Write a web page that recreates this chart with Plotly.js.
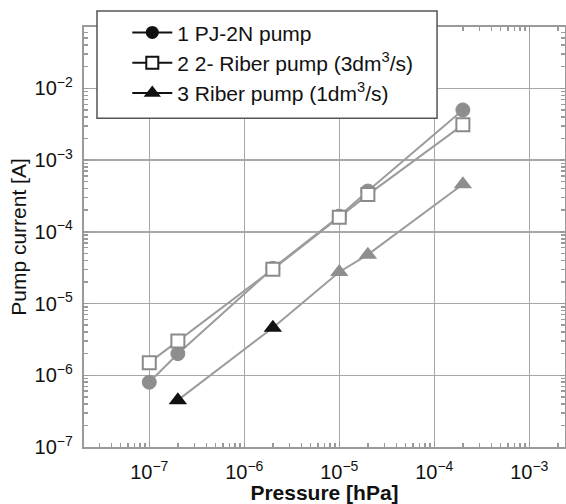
<!DOCTYPE html>
<html>
<head>
<meta charset="utf-8">
<script src="https://cdn.plot.ly/plotly-3.0.1.min.js"></script>
<style>html,body{margin:0;padding:0;background:#fff;}#chart{width:566px;height:504px;}</style>
</head>
<body>
<div id="chart"></div>
<script>
// Data
const pressure1 = [1e-7, 2e-7, 2e-6, 1e-5, 2e-5, 2e-4];
const current1  = [8e-7, 2e-6, 3.1e-5, 1.65e-4, 3.7e-4, 5.0e-3];
const pressure2 = [1e-7, 2e-7, 2e-6, 1e-5, 2e-5, 2e-4];
const current2  = [1.5e-6, 3.0e-6, 3.0e-5, 1.6e-4, 3.3e-4, 3.1e-3];
const pressure3 = [2e-7, 2e-6, 1e-5, 2e-5, 2e-4];
const current3  = [4.5e-7, 4.6e-6, 2.75e-5, 4.8e-5, 4.6e-4];

const seriesNames = ['1 PJ-2N pump', '2 2- Riber pump (3dm<sup>3</sup>/s)', '3 Riber pump (1dm<sup>3</sup>/s)'];

const FONT = 'Liberation Sans, Arial, sans-serif';
const lineGray = '#9c9c9c';
const markGray = '#8e8e8e';

const traces = [
  {x: pressure1, y: current1, mode: 'lines+markers', showlegend: false,
   line: {color: lineGray, width: 2},
   marker: {symbol: 'circle', size: 14, color: markGray, line: {color: markGray, width: 1}}},
  {x: pressure2, y: current2, mode: 'lines+markers', showlegend: false,
   line: {color: lineGray, width: 2},
   marker: {symbol: 'square', size: 13, color: '#ffffff', line: {color: '#8a8a8a', width: 2}}},
  {x: pressure3, y: current3, mode: 'lines+markers', showlegend: false,
   line: {color: lineGray, width: 2},
   marker: {symbol: 'triangle-up', size: 16,
            color: ['#111111', '#111111', markGray, markGray, markGray],
            line: {width: 0}}},
  // legend entries (black symbols as in the reference legend)
  {x: [null], y: [null], mode: 'lines+markers', name: seriesNames[0], legendgroup: 'a',
   line: {color: '#111', width: 2}, marker: {symbol: 'circle', size: 13, color: '#111'}},
  {x: [null], y: [null], mode: 'lines+markers', name: seriesNames[1], legendgroup: 'b',
   line: {color: '#111', width: 2}, marker: {symbol: 'square', size: 12, color: '#fff', line: {color: '#111', width: 2}}},
  {x: [null], y: [null], mode: 'lines+markers', name: seriesNames[2], legendgroup: 'c',
   line: {color: '#111', width: 2}, marker: {symbol: 'triangle-up', size: 15, color: '#111'}}
];

function axis(extra) {
  return Object.assign({
    type: 'log', showline: true, linecolor: '#9a9a9a', linewidth: 2, mirror: 'ticks',
    showgrid: true, gridcolor: '#a8a8a8', gridwidth: 1.5, zeroline: false,
    dtick: 1, exponentformat: 'power', showexponent: 'all',
    ticks: 'inside', ticklen: 5, tickcolor: '#9a9a9a', tickwidth: 1.5,
    tickfont: {family: FONT, size: 16, color: '#111'},
    minor: {ticks: 'inside', ticklen: 4, tickcolor: '#9a9a9a', tickwidth: 1.5, showgrid: false, dtick: 'D1'}
  }, extra);
}

const layout = {
  width: 566, height: 504,
  margin: {l: 84, r: 1, t: 27, b: 57},
  paper_bgcolor: '#fff', plot_bgcolor: '#fff',
  font: {family: FONT, size: 16, color: '#111'},
  xaxis: axis({
    range: [-7.687, -2.624],
    ticklabelstandoff: 7,
    title: {text: 'Pressure [hPa]', font: {size: 21, family: FONT, weight: 'bold', color: '#111'}, standoff: 1}
  }),
  yaxis: axis({
    range: [-7, -1.145],
    ticklabelstandoff: 6,
    title: {text: 'Pump current [A]', font: {size: 21, family: FONT, color: '#111'}, standoff: 2}
  }),
  shapes: [{type: 'rect', xref: 'paper', yref: 'paper', x0: 0.027, x1: 0.734, y0: 0.783, y1: 1.038,
            fillcolor: '#fff', line: {color: '#555', width: 1.5}, layer: 'above'}],
  legend: {x: 0.09, y: 1.035, xanchor: 'left', yanchor: 'top', bgcolor: 'rgba(0,0,0,0)', borderwidth: 0,
           font: {size: 21, family: FONT, color: '#111'},
           tracegroupgap: 5, itemwidth: 40, traceorder: 'normal'},
  showlegend: true
};

Plotly.newPlot('chart', traces, layout, {displayModeBar: false, staticPlot: true});
</script>
</body>
</html>
